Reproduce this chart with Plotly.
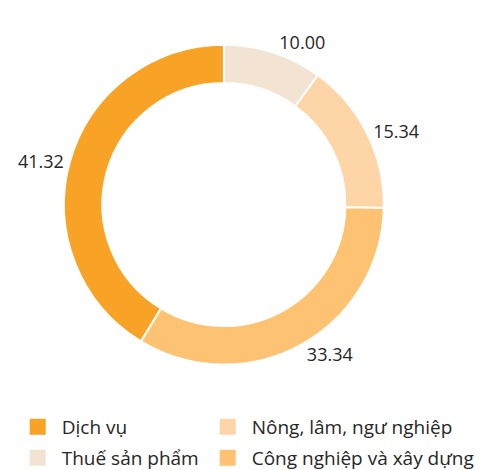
import plotly.graph_objects as go

# slices in clockwise order starting at 12 o'clock
categories = ["Thuế sản phẩm", "Nông, lâm, ngư nghiệp", "Công nghiệp và xây dựng", "Dịch vụ"]
values = [10.00, 15.34, 33.34, 41.32]
colors = ["#F3E3D3", "#FDD5A6", "#FDC373", "#F8A226"]

# legend layout (row-major, two columns)
legend_order = ["Dịch vụ", "Nông, lâm, ngư nghiệp", "Thuế sản phẩm", "Công nghiệp và xây dựng"]

FONT = "Open Sans"
TEXT = "#262626"

fig = go.Figure()
fig.add_trace(go.Pie(
    labels=categories,
    values=values,
    sort=False,
    direction="clockwise",
    rotation=0,
    hole=0.76,
    marker=dict(colors=colors, line=dict(color="white", width=2)),
    textposition="outside",
    texttemplate="%{value:.2f}",
    textfont=dict(family=FONT, size=18, color=TEXT),
    showlegend=False,
    hoverinfo="label+value",
    domain=dict(x=[0.133, 0.798], y=[0.2245, 0.905]),
))

color_of = dict(zip(categories, colors))
legend_ids = ["legend", "legend2", "legend3", "legend4"]
for cat, lg in zip(legend_order, legend_ids):
    fig.add_trace(go.Scatter(
        x=[None], y=[None], mode="markers", name=cat,
        marker=dict(symbol="square", size=16, color=color_of[cat]),
        legend=lg, showlegend=True,
    ))

leg_common = dict(
    orientation="h", xanchor="left", yanchor="middle",
    font=dict(family=FONT, size=19, color=TEXT),
    itemwidth=38, bgcolor="rgba(0,0,0,0)", itemclick=False,
)
col_x = [0.0285, 0.4235]
row_y = [1 - 427 / 470, 1 - 458 / 470]
fig.update_layout(
    width=481, height=470,
    margin=dict(l=0, r=0, t=0, b=0, autoexpand=False),
    paper_bgcolor="white", plot_bgcolor="white",
    xaxis=dict(visible=False), yaxis=dict(visible=False),
    legend=dict(x=col_x[0], y=row_y[0], **leg_common),
    legend2=dict(x=col_x[1], y=row_y[0], **leg_common),
    legend3=dict(x=col_x[0], y=row_y[1], **leg_common),
    legend4=dict(x=col_x[1], y=row_y[1], **leg_common),
)

fig.write_html(
    "out.html",
    config={"displayModeBar": False},
    post_script="document.body.style.margin='0px';document.body.style.overflow='hidden';",
)
